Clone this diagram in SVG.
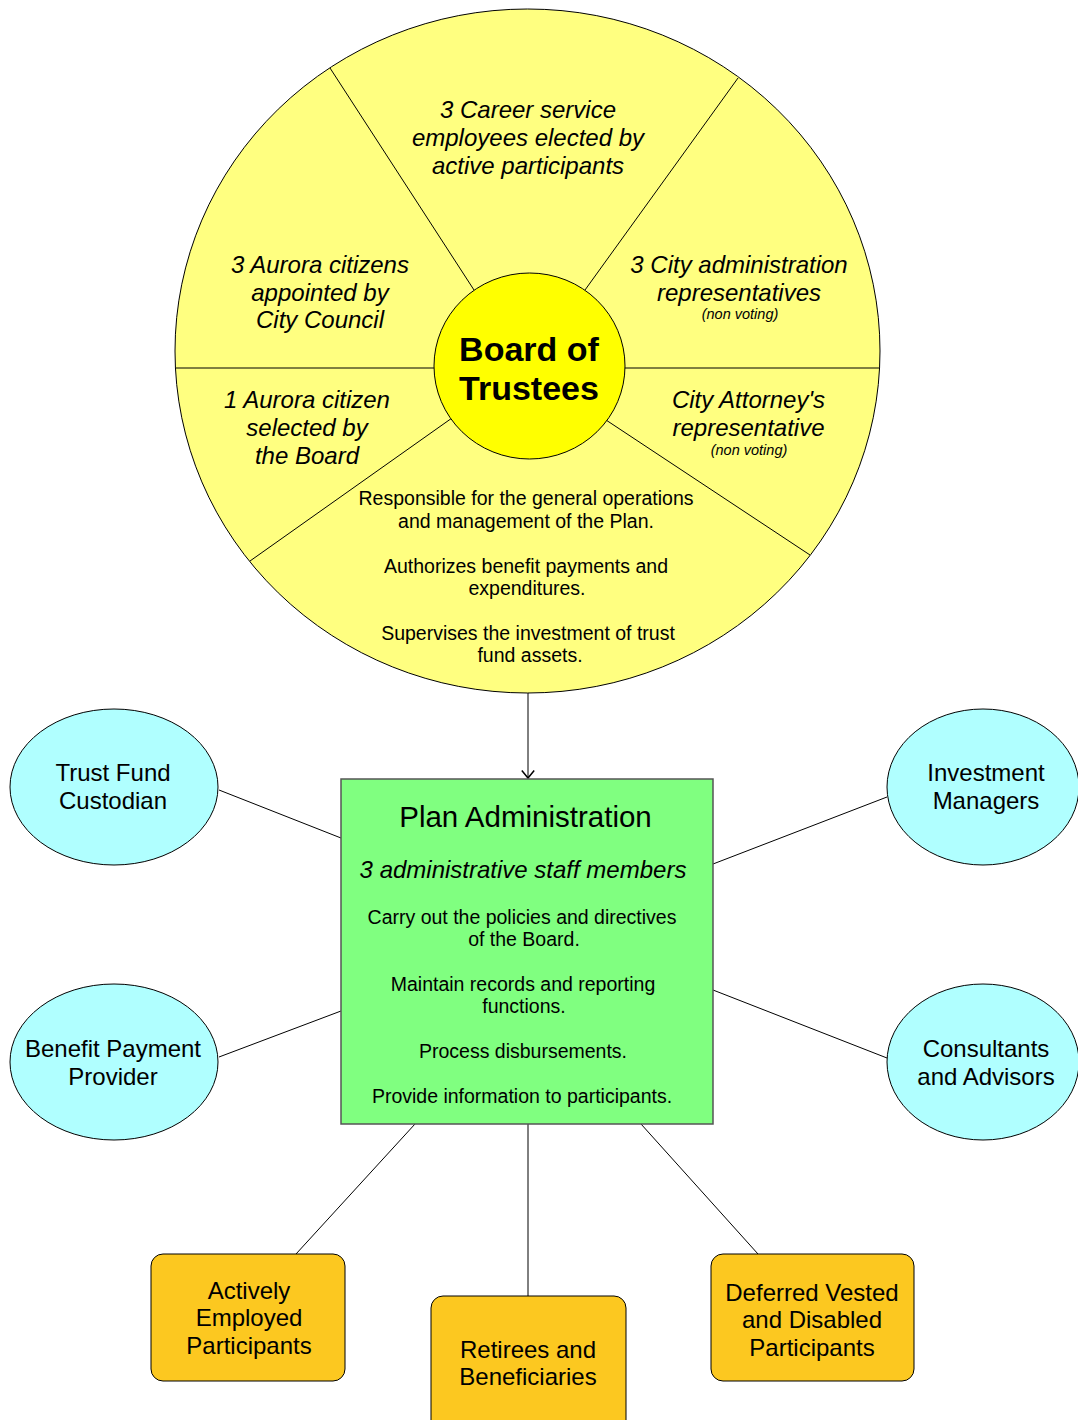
<svg xmlns="http://www.w3.org/2000/svg" width="1078" height="1420" viewBox="0 0 1078 1420">
<defs>
<style>
text{font-family:"Liberation Sans",Arial,sans-serif;fill:#000;text-anchor:middle}
.it{font-style:italic;font-size:24px}
.nv{font-style:italic;font-size:14.5px}
.body{font-size:19.5px}
.lbl{font-size:24px}
.ln{stroke:#000;stroke-width:1;fill:none}
.ell{fill:#B0FFFF;stroke:#000;stroke-width:1}
.org{fill:#FCC820;stroke:#000;stroke-width:1}
</style>
<marker id="arr" viewBox="0 0 10 14" refX="8.5" refY="7" markerWidth="10" markerHeight="14" markerUnits="userSpaceOnUse" orient="auto">
<path d="M1,0.8 L8.5,7 L1,13.2" fill="none" stroke="#000" stroke-width="1.5"/>
</marker>
</defs>
<rect width="1078" height="1420" fill="#fff"/>

<g id="board-wheel">
<ellipse cx="527.5" cy="351" rx="352.5" ry="342" fill="#FFFF80" stroke="#000" stroke-width="1"/>
<line class="ln" x1="330" y1="68" x2="474" y2="290"/>
<line class="ln" x1="738" y1="78" x2="585" y2="290"/>
<line class="ln" x1="175" y1="368" x2="434" y2="368"/>
<line class="ln" x1="625" y1="368" x2="880" y2="368"/>
<line class="ln" x1="250" y1="561" x2="452" y2="418"/>
<line class="ln" x1="810" y1="555" x2="606" y2="420"/>
<text class="it" x="528" y="118">3 Career service</text>
<text class="it" x="528" y="146">employees elected by</text>
<text class="it" x="528" y="174">active participants</text>
<text class="it" x="320" y="273">3 Aurora citizens</text>
<text class="it" x="320" y="301">appointed by</text>
<text class="it" x="320" y="328">City Council</text>
<text class="it" x="739" y="273">3 City administration</text>
<text class="it" x="739" y="301">representatives</text>
<text class="nv" x="740" y="319">(non voting)</text>
<text class="it" x="307" y="408">1 Aurora citizen</text>
<text class="it" x="307" y="436">selected by</text>
<text class="it" x="307" y="464">the Board</text>
<text class="it" x="748.5" y="408">City Attorney's</text>
<text class="it" x="748.5" y="436">representative</text>
<text class="nv" x="749" y="455">(non voting)</text>
<text class="body" x="526" y="505">Responsible for the general operations</text>
<text class="body" x="526" y="528">and management of the Plan.</text>
<text class="body" x="526" y="573">Authorizes benefit payments and</text>
<text class="body" x="527" y="595">expenditures.</text>
<text class="body" x="528" y="640">Supervises the investment of trust</text>
<text class="body" x="530" y="662">fund assets.</text>
</g>

<g id="board-of-trustees">
<ellipse cx="529.5" cy="366" rx="95.5" ry="93" fill="#FFFF00" stroke="#000" stroke-width="1"/>
<text x="529" y="361" style="font-size:34px;font-weight:bold">Board of</text>
<text x="529" y="400" style="font-size:34px;font-weight:bold">Trustees</text>
</g>

<g id="connectors">
<line class="ln" x1="528" y1="693" x2="528" y2="778" marker-end="url(#arr)"/>
<line class="ln" x1="219" y1="790" x2="341" y2="838"/>
<line class="ln" x1="219" y1="1057" x2="341" y2="1011"/>
<line class="ln" x1="887" y1="797" x2="713" y2="864"/>
<line class="ln" x1="887" y1="1058" x2="713" y2="990"/>
<line class="ln" x1="415" y1="1124" x2="296" y2="1254"/>
<line class="ln" x1="528" y1="1124" x2="528" y2="1296"/>
<line class="ln" x1="641" y1="1124" x2="758" y2="1254"/>
</g>

<g id="plan-administration">
<rect x="341" y="779" width="372" height="345" fill="#80FF80" stroke="#555" stroke-width="1.5"/>
<text x="525.5" y="827" style="font-size:29.5px">Plan Administration</text>
<text class="it" x="523" y="878">3 administrative staff members</text>
<text class="body" x="522" y="924">Carry out the policies and directives</text>
<text class="body" x="524" y="946">of the Board.</text>
<text class="body" x="523" y="991">Maintain records and reporting</text>
<text class="body" x="524" y="1013">functions.</text>
<text class="body" x="523" y="1058">Process disbursements.</text>
<text class="body" x="522" y="1103">Provide information to participants.</text>
</g>

<g id="trust-fund-custodian">
<ellipse class="ell" cx="114" cy="787" rx="104" ry="78"/>
<text class="lbl" x="113" y="781">Trust Fund</text>
<text class="lbl" x="113" y="809">Custodian</text>
</g>

<g id="benefit-payment-provider">
<ellipse class="ell" cx="114" cy="1062" rx="104" ry="78"/>
<text class="lbl" x="113" y="1057">Benefit Payment</text>
<text class="lbl" x="113" y="1085">Provider</text>
</g>

<g id="investment-managers">
<ellipse class="ell" cx="983" cy="787" rx="96" ry="78"/>
<text class="lbl" x="986" y="781">Investment</text>
<text class="lbl" x="986" y="809">Managers</text>
</g>

<g id="consultants-advisors">
<ellipse class="ell" cx="983" cy="1062" rx="96" ry="78"/>
<text class="lbl" x="986" y="1057">Consultants</text>
<text class="lbl" x="986" y="1085">and Advisors</text>
</g>

<g id="actively-employed">
<rect class="org" x="151" y="1254" width="194" height="127" rx="12"/>
<text class="lbl" x="249" y="1299">Actively</text>
<text class="lbl" x="249" y="1326">Employed</text>
<text class="lbl" x="249" y="1354">Participants</text>
</g>

<g id="retirees-beneficiaries">
<rect class="org" x="431" y="1296" width="195" height="140" rx="12"/>
<text class="lbl" x="528" y="1358">Retirees and</text>
<text class="lbl" x="528" y="1385">Beneficiaries</text>
</g>

<g id="deferred-vested">
<rect class="org" x="711" y="1254" width="203" height="127" rx="12"/>
<text class="lbl" x="812" y="1301">Deferred Vested</text>
<text class="lbl" x="812" y="1328">and Disabled</text>
<text class="lbl" x="812" y="1356">Participants</text>
</g>
</svg>
